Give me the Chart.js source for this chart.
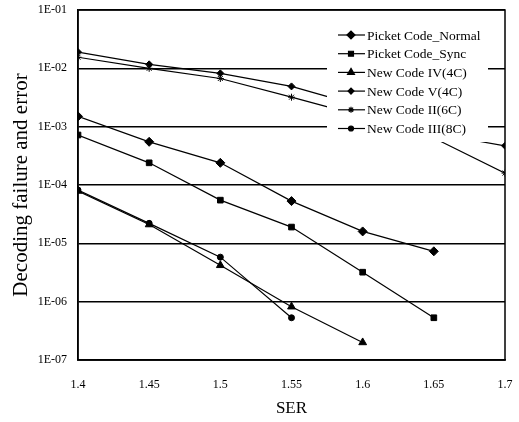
<!DOCTYPE html>
<html>
<head>
<meta charset="utf-8">
<script src="https://cdn.jsdelivr.net/npm/chart.js@4.4.0/dist/chart.umd.min.js"></script>
<style>
  html, body { margin: 0; padding: 0; background: #fff; }
</style>
</head>
<body>
<canvas id="chart" width="519" height="422"></canvas>
<script>
// SER values on the x axis
const ser = [1.4, 1.45, 1.5, 1.55, 1.6, 1.65, 1.7];

const seriesNames = [
  "Picket Code_Normal",
  "Picket Code_Sync",
  "New Code IV(4C)",
  "New Code V(4C)",
  "New Code II(6C)",
  "New Code III(8C)",
];

// decoding failure and error (null = no point)
const pickNormal = [1.5e-3, 5.5e-4, 2.4e-4, 5.3e-5, 1.6e-5, 7.3e-6, null];
const pickSync = [7.2e-4, 2.4e-4, 5.5e-5, 1.9e-5, 3.2e-6, 5.3e-7, null];
const code4 = [7.9e-5, 2.1e-5, 4.2e-6, 8.2e-7, 2.0e-7, null, null];
const code5 = [1.9e-2, 1.17e-2, 8.2e-3, 4.9e-3, 2.2e-3, 7.7e-4, 4.7e-4];
const code2 = [1.55e-2, 1.0e-2, 6.7e-3, 3.2e-3, 1.5e-3, 6.4e-4, 1.6e-4];
const code3 = [8.2e-5, 2.2e-5, 5.8e-6, 5.3e-7, null, null, null];

const xTicks = [1.4, 1.45, 1.5, 1.55, 1.6, 1.65, 1.7];
const yTicks = [1e-7, 1e-6, 1e-5, 1e-4, 1e-3, 1e-2, 1e-1];
const yTickLabels = ["1E-07", "1E-06", "1E-05", "1E-04", "1E-03", "1E-02", "1E-01"];

const SERIF = "'Liberation Serif', 'Times New Roman', serif";

const markers = [
  { style: "rectRot", r: 4.5 },
  { style: "rect", r: 4 },
  { style: "triangle", r: 4.5 },
  { style: "rectRot", r: 3.5 },
  { style: "star", r: 3.5 },
  { style: "circle", r: 3 },
];

const values = [pickNormal, pickSync, code4, code5, code2, code3];

const toPoints = (arr) =>
  arr.map((y, i) => ({ x: ser[i], y })).filter((p) => p.y !== null);

const datasets = values.map((arr, i) => ({
  label: seriesNames[i],
  data: toPoints(arr),
  borderColor: "#000",
  backgroundColor: "#000",
  borderWidth: 1.2,
  pointStyle: markers[i].style,
  pointRadius: markers[i].r,
  pointBorderWidth: 1,
  tension: 0,
}));

// box round the plot area
const framePlugin = {
  id: "frame",
  afterDatasetsDraw(chart) {
    const { ctx, chartArea: a } = chart;
    ctx.save();
    ctx.strokeStyle = "#000";
    ctx.lineWidth = 1.5;
    ctx.strokeRect(a.left, a.top, a.right - a.left, a.bottom - a.top);
    ctx.restore();
  },
};

// legend sits inside the plot with a white background
const legendPlugin = {
  id: "innerLegend",
  afterDatasetsDraw(chart) {
    const { ctx } = chart;
    ctx.save();
    ctx.fillStyle = "#fff";
    ctx.fillRect(327, 15, 161, 127);
    ctx.font = "13.5px " + SERIF;
    ctx.textBaseline = "middle";
    chart.data.datasets.forEach((ds, i) => {
      const y = 35 + i * 18.7;
      ctx.strokeStyle = "#000";
      ctx.fillStyle = "#000";
      ctx.lineWidth = 1.2;
      ctx.beginPath();
      ctx.moveTo(338, y);
      ctx.lineTo(365, y);
      ctx.stroke();
      Chart.helpers.drawPoint(
        ctx,
        { pointStyle: ds.pointStyle, radius: ds.pointRadius - 0.5, rotation: 0, borderWidth: 1 },
        351,
        y
      );
      ctx.fillStyle = "#000";
      ctx.fillText(ds.label, 367, y + 1);
    });
    ctx.restore();
  },
};

new Chart(document.getElementById("chart"), {
  type: "line",
  data: { datasets },
  options: {
    responsive: false,
    animation: false,
    devicePixelRatio: 1,
    layout: { padding: { left: 0, right: 14, top: 10, bottom: 0 } },
    plugins: { legend: { display: false }, tooltip: { enabled: false } },
    scales: {
      x: {
        type: "linear",
        min: 1.4,
        max: 1.7,
        afterBuildTicks: (s) => {
          s.ticks = xTicks.map((v) => ({ value: v }));
        },
        afterFit: (s) => {
          s.height = 62;
          s.paddingLeft = 0;
          s.paddingRight = 0;
        },
        grid: { display: false, drawTicks: false },
        border: { display: true, color: "#000", width: 1.5 },
        ticks: {
          padding: 18,
          color: "#000",
          font: { family: SERIF, size: 12 },
          callback: (v) => String(v),
        },
        title: {
          display: true,
          text: "SER",
          color: "#000",
          font: { family: SERIF, size: 17 },
          padding: { top: 0, bottom: 3 },
        },
      },
      y: {
        type: "logarithmic",
        min: 1e-7,
        max: 1e-1,
        afterBuildTicks: (s) => {
          s.ticks = yTicks.map((v) => ({ value: v }));
        },
        afterFit: (s) => {
          s.width = 78;
          s.paddingTop = 0;
          s.paddingBottom = 0;
        },
        grid: { color: "#000", lineWidth: 1.5, drawTicks: false },
        border: { display: true, color: "#000", width: 1.5 },
        ticks: {
          padding: 11,
          color: "#000",
          font: { family: SERIF, size: 12 },
          callback: (v) => yTickLabels[yTicks.indexOf(v)],
        },
        title: {
          display: true,
          text: "Decoding failure and error",
          color: "#000",
          font: { family: SERIF, size: 21 },
          padding: { top: 9, bottom: 0 },
        },
      },
    },
  },
  plugins: [framePlugin, legendPlugin],
});
</script>
</body>
</html>
